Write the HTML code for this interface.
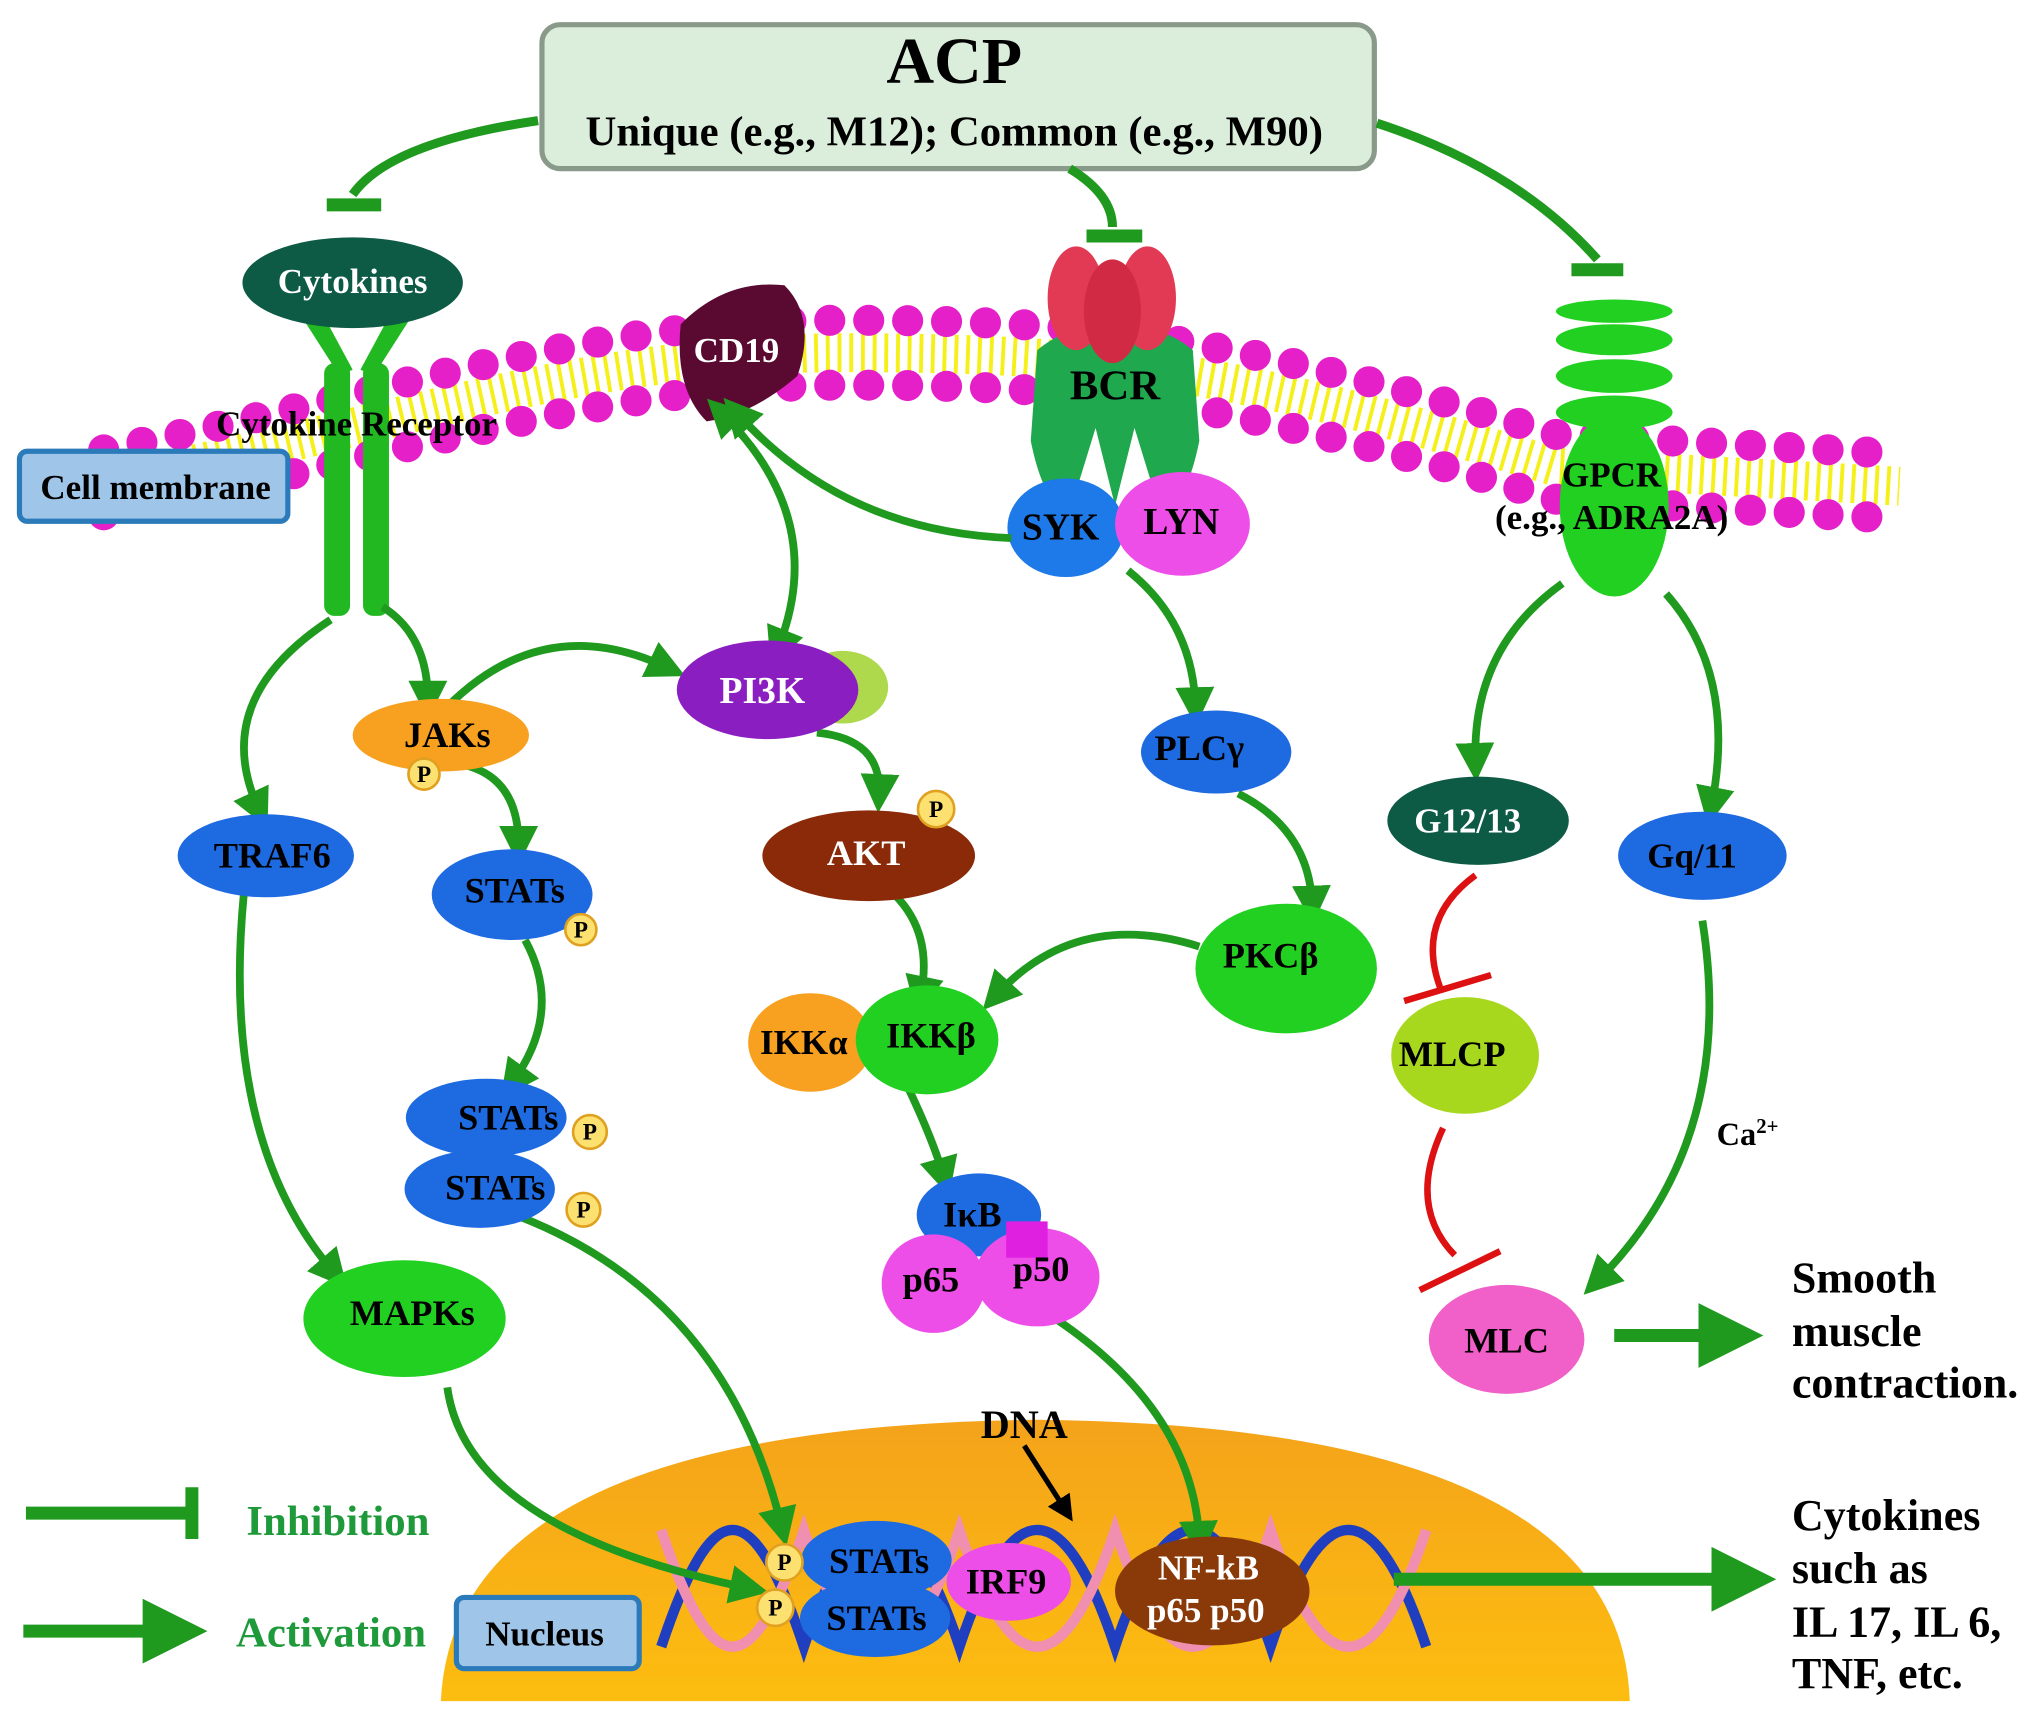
<!DOCTYPE html>
<html><head><meta charset="utf-8"><style>
html,body{margin:0;padding:0;background:#fff}
svg{display:block}
text{font-family:"Liberation Serif",serif;font-weight:bold}
</style></head><body>
<svg width="2033" height="1731" viewBox="0 0 1568 1335" xmlns="http://www.w3.org/2000/svg">
<defs>
<marker id="a" markerWidth="5" markerHeight="5" refX="2.5" refY="2.5" orient="auto" markerUnits="strokeWidth"><path d="M0,0 L5,2.5 L0,5 Z" fill="#1f9a1f"/></marker>
<marker id="as" markerWidth="5" markerHeight="5" refX="2.5" refY="2.5" orient="auto-start-reverse" markerUnits="strokeWidth"><path d="M0,0 L5,2.5 L0,5 Z" fill="#1f9a1f"/></marker>
<marker id="ak" markerWidth="5" markerHeight="5" refX="2.5" refY="2.5" orient="auto" markerUnits="strokeWidth"><path d="M0,0 L5,2.5 L0,5 Z" fill="#000"/></marker>
<linearGradient id="nuc" x1="0" y1="0" x2="0" y2="1"><stop offset="0" stop-color="#f4a31a"/><stop offset="1" stop-color="#fdbd10"/></linearGradient>
</defs>
<path d="M340,1312 Q350,1100 800,1095 Q1250,1100 1257,1312 Z" fill="url(#nuc)"/>
<g fill="none" stroke-linecap="round">
<path d="M80,372 C300,330 450,272 650,272 C850,272 950,285 1200,360 L1465,375" stroke="#f5f01a" stroke-width="30" stroke-dasharray="3 6" stroke-linecap="butt"/>
<path d="M80,347 C300,305 450,247 650,247 C850,247 950,260 1200,335 L1465,350" stroke="#e620c8" stroke-width="24" stroke-dasharray="0 30"/>
<path d="M80,397 C300,355 450,297 650,297 C850,297 950,310 1200,385 L1465,400" stroke="#e620c8" stroke-width="24" stroke-dasharray="0 30"/>
</g>
<g fill="none" stroke-width="8">
<path d="M510,1270 C550,1150 580,1150 620,1270 C660,1150 700,1150 740,1270 C780,1150 820,1150 860,1270 C900,1150 940,1150 980,1270 C1020,1150 1060,1150 1100,1270" stroke="#1f3fc0"/>
<path d="M510,1180 C550,1300 580,1300 620,1180 C660,1300 700,1300 740,1180 C780,1300 820,1300 860,1180 C900,1300 940,1300 980,1180 C1020,1300 1060,1300 1100,1180" stroke="#f08fb0"/>
</g>
<rect x="418" y="19" width="642" height="111" rx="14" fill="#dbeedb" stroke="#8a9a8a" stroke-width="4"/>
<text x="736" y="64" font-size="51" text-anchor="middle">ACP</text>
<text x="736" y="112" font-size="33" text-anchor="middle">Unique (e.g., M12); Common (e.g., M90)</text>
<g fill="none" stroke="#1f9a1f" stroke-width="7">
<path d="M415,93 Q300,110 272,150"/><path d="M252,158 H294" stroke-width="10"/>
<path d="M825,130 Q858,150 858,175"/><path d="M838,182 H881" stroke-width="10"/>
<path d="M1062,95 Q1170,130 1232,200"/><path d="M1212,208 H1252" stroke-width="10"/>
</g>
<g fill="#22b822">
<rect x="250" y="280" width="20" height="195" rx="8"/><rect x="280" y="280" width="20" height="195" rx="8"/>
<path d="M230,240 L262,290 L272,285 L245,235 Z"/><path d="M320,240 L288,290 L278,285 L305,235 Z"/>
</g>
<ellipse cx="272" cy="218" rx="85" ry="35" fill="#0d5a45"/>
<text x="272" y="226" font-size="27" fill="#fff" text-anchor="middle">Cytokines</text>
<text x="275" y="336" font-size="27" text-anchor="middle">Cytokine Receptor</text>
<rect x="15" y="348" width="207" height="54" rx="6" fill="#9fc5e8" stroke="#2b7bba" stroke-width="4"/>
<text x="120" y="385" font-size="27" text-anchor="middle">Cell membrane</text>
<path d="M525,250 Q560,215 605,220 Q630,245 615,290 Q580,320 545,325 Q520,300 525,250Z" fill="#5a0a30"/>
<text x="568" y="279" font-size="27" fill="#fff" text-anchor="middle">CD19</text>
<path d="M800,270 Q830,245 860,260 Q890,245 920,270 L925,340 Q915,390 895,395 L875,330 L860,390 L845,330 L825,395 Q805,390 795,340Z" fill="#1fa84e"/>
<ellipse cx="830" cy="230" rx="22" ry="40" fill="#e23a55"/><ellipse cx="885" cy="230" rx="22" ry="40" fill="#e23a55"/><ellipse cx="858" cy="240" rx="22" ry="40" fill="#d02a45"/>
<text x="860" y="308" font-size="33" text-anchor="middle">BCR</text>
<ellipse cx="822" cy="407" rx="45" ry="38" fill="#1e7ae8"/>
<ellipse cx="912" cy="404" rx="52" ry="40" fill="#ee4ee8"/>
<text x="818" y="416" font-size="29" text-anchor="middle">SYK</text>
<text x="911" y="412" font-size="29" text-anchor="middle">LYN</text>
<g fill="#22d022">
<ellipse cx="1245" cy="240" rx="45" ry="9"/><ellipse cx="1245" cy="262" rx="45" ry="12"/><ellipse cx="1245" cy="290" rx="45" ry="13"/><ellipse cx="1245" cy="318" rx="45" ry="13"/>
<ellipse cx="1245" cy="390" rx="42" ry="70"/>
</g>
<text x="1243" y="375" font-size="27" text-anchor="middle">GPCR</text>
<text x="1243" y="408" font-size="27" text-anchor="middle">(e.g., ADRA2A)</text>
<g fill="none" stroke="#1f9a1f" stroke-width="6">
<path d="M255,478 Q160,540 200,625" marker-end="url(#a)"/>
<path d="M295,468 Q330,490 330,540" marker-end="url(#a)"/>
<path d="M345,545 Q420,470 515,515" marker-end="url(#a)"/>
<path d="M556,318 Q640,400 600,500" marker-end="url(#a)" marker-start="url(#as)"/>
<path d="M780,415 Q650,410 568,318" marker-end="url(#a)"/>
<path d="M870,440 Q920,480 922,545" marker-end="url(#a)"/>
<path d="M630,565 Q680,570 678,612" marker-end="url(#a)"/>
<path d="M358,590 Q400,600 400,652" marker-end="url(#a)"/>
<path d="M405,725 Q435,780 395,835" marker-end="url(#a)"/>
<path d="M188,690 Q170,880 258,982" marker-end="url(#a)"/>
<path d="M690,690 Q720,720 710,768" marker-end="url(#a)"/>
<path d="M955,612 Q1010,640 1012,698" marker-end="url(#a)"/>
<path d="M925,730 Q830,700 768,768" marker-end="url(#a)"/>
<path d="M700,838 Q720,880 728,908" marker-end="url(#a)"/>
<path d="M1205,450 Q1135,500 1138,588" marker-end="url(#a)"/>
<path d="M1285,458 Q1340,520 1320,622" marker-end="url(#a)"/>
<path d="M1313,710 Q1340,880 1232,988" marker-end="url(#a)"/>
<path d="M400,938 Q560,1000 603,1178" marker-end="url(#a)"/>
<path d="M345,1070 Q360,1180 578,1225" marker-end="url(#a)"/>
<path d="M795,1005 Q920,1080 925,1188" marker-end="url(#a)"/>
<path d="M1075,1218 H1345" stroke-width="10" marker-end="url(#a)"/>
<path d="M1245,1030 H1335" stroke-width="10" marker-end="url(#a)"/>
<path d="M20,1167 H145" stroke-width="10"/><path d="M148,1147 V1187" stroke-width="10"/>
<path d="M18,1258 H135" stroke-width="10" marker-end="url(#a)"/>
</g>
<g fill="none" stroke="#dd1111" stroke-width="5">
<path d="M1138,675 Q1090,710 1112,765"/><path d="M1083,772 L1150,752"/>
<path d="M1113,870 Q1085,930 1122,968"/><path d="M1095,995 L1157,965"/>
</g>
<path d="M790,1115 L822,1165" stroke="#000" stroke-width="4" marker-end="url(#ak)"/>
<ellipse cx="650" cy="530" rx="35" ry="28" fill="#9ad020" opacity=".8"/><ellipse cx="592" cy="532" rx="70" ry="38" fill="#8a1ec0"/>
<text x="588" y="542" font-size="29" fill="#fff" text-anchor="middle">PI3K</text>
<ellipse cx="340" cy="567" rx="68" ry="28" fill="#f8a020"/><text x="345" y="576" font-size="28" text-anchor="middle">JAKs</text>
<ellipse cx="205" cy="660" rx="68" ry="32" fill="#1e6ae0"/><text x="210" y="669" font-size="28" text-anchor="middle">TRAF6</text>
<ellipse cx="395" cy="690" rx="62" ry="35" fill="#1e6ae0"/><text x="397" y="696" font-size="28" text-anchor="middle">STATs</text>
<ellipse cx="670" cy="660" rx="82" ry="35" fill="#8a2a08"/><text x="668" y="667" font-size="28" fill="#fff" text-anchor="middle">AKT</text>
<ellipse cx="938" cy="580" rx="58" ry="32" fill="#1e6ae0"/><text x="925" y="586" font-size="28" text-anchor="middle">PLCγ</text>
<ellipse cx="1140" cy="633" rx="70" ry="34" fill="#0d5a45"/><text x="1132" y="642" font-size="27" fill="#fff" text-anchor="middle">G12/13</text>
<ellipse cx="1313" cy="660" rx="65" ry="34" fill="#1e6ae0"/><text x="1305" y="669" font-size="27" text-anchor="middle">Gq/11</text>
<ellipse cx="992" cy="747" rx="70" ry="50" fill="#22d022"/><text x="980" y="746" font-size="28" text-anchor="middle">PKCβ</text>
<ellipse cx="625" cy="804" rx="48" ry="38" fill="#f8a020"/><text x="620" y="813" font-size="27" text-anchor="middle">IKKα</text>
<ellipse cx="715" cy="802" rx="55" ry="42" fill="#22d022"/><text x="718" y="808" font-size="28" text-anchor="middle">IKKβ</text>
<ellipse cx="1130" cy="814" rx="57" ry="45" fill="#a8d81e"/><text x="1120" y="822" font-size="28" text-anchor="middle">MLCP</text>
<text x="1324" y="883" font-size="25">Ca<tspan font-size="16" dy="-9">2+</tspan></text>
<ellipse cx="375" cy="862" rx="62" ry="30" fill="#1e6ae0"/><ellipse cx="370" cy="917" rx="58" ry="30" fill="#1e6ae0"/>
<text x="392" y="871" font-size="28" text-anchor="middle">STATs</text><text x="382" y="925" font-size="28" text-anchor="middle">STATs</text>
<ellipse cx="755" cy="937" rx="48" ry="32" fill="#1e6ae0"/>
<ellipse cx="720" cy="990" rx="40" ry="38" fill="#ee4ee8"/><ellipse cx="800" cy="985" rx="48" ry="38" fill="#ee4ee8"/>
<rect x="776" y="942" width="32" height="28" fill="#e020e0"/>
<text x="750" y="946" font-size="28" text-anchor="middle">IκB</text>
<text x="718" y="996" font-size="28" text-anchor="middle">p65</text><text x="803" y="988" font-size="28" text-anchor="middle">p50</text>
<ellipse cx="312" cy="1017" rx="78" ry="45" fill="#22d022"/><text x="318" y="1022" font-size="28" text-anchor="middle">MAPKs</text>
<ellipse cx="1162" cy="1033" rx="60" ry="42" fill="#f060c8"/><text x="1162" y="1043" font-size="28" text-anchor="middle">MLC</text>
<g font-size="18" text-anchor="middle">
<circle cx="327" cy="597" r="12" fill="#fce070" stroke="#e0a020" stroke-width="2"/><text x="327" y="603">P</text>
<circle cx="448" cy="717" r="12" fill="#fce070" stroke="#e0a020" stroke-width="2"/><text x="448" y="723">P</text>
<circle cx="722" cy="624" r="14" fill="#fce070" stroke="#e0a020" stroke-width="2"/><text x="722" y="630">P</text>
<circle cx="455" cy="873" r="13" fill="#fce070" stroke="#e0a020" stroke-width="2"/><text x="455" y="879">P</text>
<circle cx="450" cy="933" r="13" fill="#fce070" stroke="#e0a020" stroke-width="2"/><text x="450" y="939">P</text>
</g>
<ellipse cx="676" cy="1203" rx="58" ry="30" fill="#1e6ae0"/><ellipse cx="675" cy="1248" rx="58" ry="30" fill="#1e6ae0"/>
<g font-size="18" text-anchor="middle">
<circle cx="605" cy="1205" r="14" fill="#fce070" stroke="#e0a020" stroke-width="2"/><text x="605" y="1211">P</text>
<circle cx="598" cy="1240" r="14" fill="#fce070" stroke="#e0a020" stroke-width="2"/><text x="598" y="1246">P</text>
</g>
<text x="678" y="1213" font-size="28" text-anchor="middle">STATs</text><text x="676" y="1257" font-size="28" text-anchor="middle">STATs</text>
<ellipse cx="778" cy="1220" rx="48" ry="30" fill="#ee4ee8"/><text x="776" y="1229" font-size="28" text-anchor="middle">IRF9</text>
<ellipse cx="935" cy="1227" rx="75" ry="42" fill="#8a3a08"/>
<text x="932" y="1218" font-size="27" fill="#fff" text-anchor="middle">NF-kB</text>
<text x="930" y="1251" font-size="27" fill="#fff" text-anchor="middle">p65 p50</text>
<text x="790" y="1109" font-size="31" text-anchor="middle">DNA</text>
<rect x="352" y="1232" width="141" height="55" rx="6" fill="#9fc5e8" stroke="#2b7bba" stroke-width="4"/>
<text x="420" y="1269" font-size="27" text-anchor="middle">Nucleus</text>
<text x="190" y="1184" font-size="33" fill="#1f9a3a">Inhibition</text>
<text x="182" y="1270" font-size="33" fill="#1f9a3a">Activation</text>
<g font-size="34">
<text x="1382" y="997">Smooth</text><text x="1382" y="1038">muscle</text><text x="1382" y="1078">contraction.</text>
<text x="1382" y="1180">Cytokines</text><text x="1382" y="1221">such as</text><text x="1382" y="1262">IL 17, IL 6,</text><text x="1382" y="1302">TNF, etc.</text>
</g>
</svg>
</body></html>
